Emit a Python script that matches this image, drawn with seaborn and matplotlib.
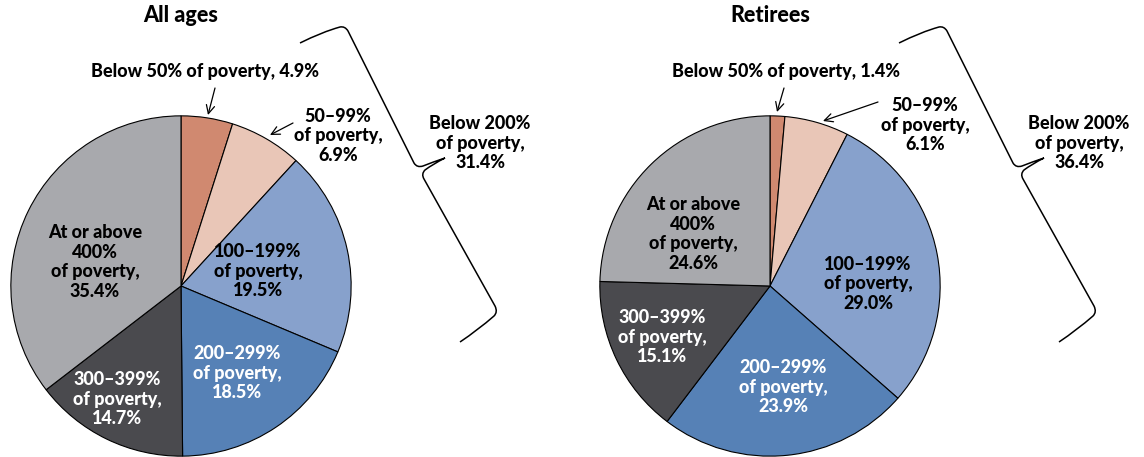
import matplotlib
matplotlib.use("Agg")
import matplotlib.pyplot as plt
import seaborn as sns
from matplotlib.path import Path
from matplotlib.patches import PathPatch

sns.set_theme(style="white")
plt.rcParams['font.family'] = ['Lato', 'DejaVu Sans']
plt.rcParams['text.color'] = 'black'

# data
groups = ["Below 50%", "50–99%", "100–199%", "200–299%", "300–399%", "At or above\n400%"]
all_ages = [4.9, 6.9, 19.5, 18.5, 14.7, 35.4]
retirees = [1.4, 6.1, 29.0, 23.9, 15.1, 24.6]
below200 = [31.4, 36.4]
titles = ["All ages", "Retirees"]

colors = sns.color_palette(["#D08970", "#E9C6B7", "#87A1CC", "#5681B6", "#4A4A4E", "#A8A9AD"])
text_colors = ["black", "black", "black", "white", "white", "black"]

W, H = 1144, 457
fig = plt.figure(figsize=(W / 100, H / 100), dpi=100)

# pie centers in pixels, radius
centers = [(181, 286), (770, 286)]
R = 171

# label positions (pixels) per pie
label_pos = [
    [(205, 72), (338, 136), (258, 271), (237, 373), (117, 399), (95, 262)],
    [(786, 72), (925, 125), (868, 284), (783, 387), (662, 337), (693, 234)],
]
arrows = [
    [((215, 88), (208, 115)), ((293, 123), (270, 135))],
    [((784, 88), (777, 112)), ((878, 102), (823, 121))],
]
brace_shift = [0, 599]

for (cx, cy), vals in zip(centers, [all_ages, retirees]):
    ax = fig.add_axes([(cx - R) / W, (H - cy - R) / H, 2 * R / W, 2 * R / H])
    ax.pie(vals, colors=colors, startangle=90, counterclock=False,
           wedgeprops=dict(edgecolor="black", linewidth=0.8))
    ax.set_xlim(-1.005, 1.005)
    ax.set_ylim(-1.005, 1.005)
    ax.set_aspect("equal")
    ax.axis("off")

ov = fig.add_axes([0, 0, 1, 1], zorder=5)
ov.set_xlim(0, W)
ov.set_ylim(H, 0)
ov.axis("off")
ov.patch.set_alpha(0)

fs = 13
fw = 900
ls = 1.18
for k, vals in enumerate([all_ages, retirees]):
    cx = centers[k][0]
    ov.text(cx, 16, titles[k], ha="center", va="center", fontsize=15.5, fontweight=fw,
            color="black")
    for i, (g, v) in enumerate(zip(groups, vals)):
        if i == 0:
            lab = f"{g} of poverty, {v:.1f}%"
        else:
            lab = f"{g}\nof poverty,\n{v:.1f}%"
        x, y = label_pos[k][i]
        ov.text(x, y, lab, ha="center", va="center", fontsize=fs, fontweight=fw,
                color=text_colors[i], linespacing=ls)
    for (p0, p1) in arrows[k]:
        ov.annotate("", xy=p1, xytext=p0,
                    arrowprops=dict(arrowstyle="->,head_length=0.5,head_width=0.25",
                                    lw=0.9, color="black", shrinkA=0, shrinkB=0))
    # brace
    dx = brace_shift[k]
    verts = [(300, 43), (322, 32), (340, 27), (345, 26), (348, 31), (414, 163),
             (417, 168), (423, 166), (433, 162), (445, 158),
             (433, 164), (425, 170), (421, 174), (424, 179), (495, 306),
             (498, 312), (494, 316), (478, 330), (460, 342)]
    codes = [Path.MOVETO, Path.CURVE3, Path.CURVE3, Path.CURVE3, Path.CURVE3, Path.LINETO,
             Path.CURVE3, Path.CURVE3, Path.CURVE3, Path.CURVE3,
             Path.CURVE3, Path.CURVE3, Path.CURVE3, Path.CURVE3, Path.LINETO,
             Path.CURVE3, Path.CURVE3, Path.CURVE3, Path.CURVE3]
    verts = [(x + dx, y) for x, y in verts]
    ov.add_patch(PathPatch(Path(verts, codes), fill=False, lw=1.1, edgecolor="black"))
    ov.text(480 + dx, 143, f"Below 200%\nof poverty,\n{below200[k]:.1f}%", ha="center",
            va="center", fontsize=fs, fontweight=fw, linespacing=ls, color="black")

fig.savefig("out.png", dpi=100)
